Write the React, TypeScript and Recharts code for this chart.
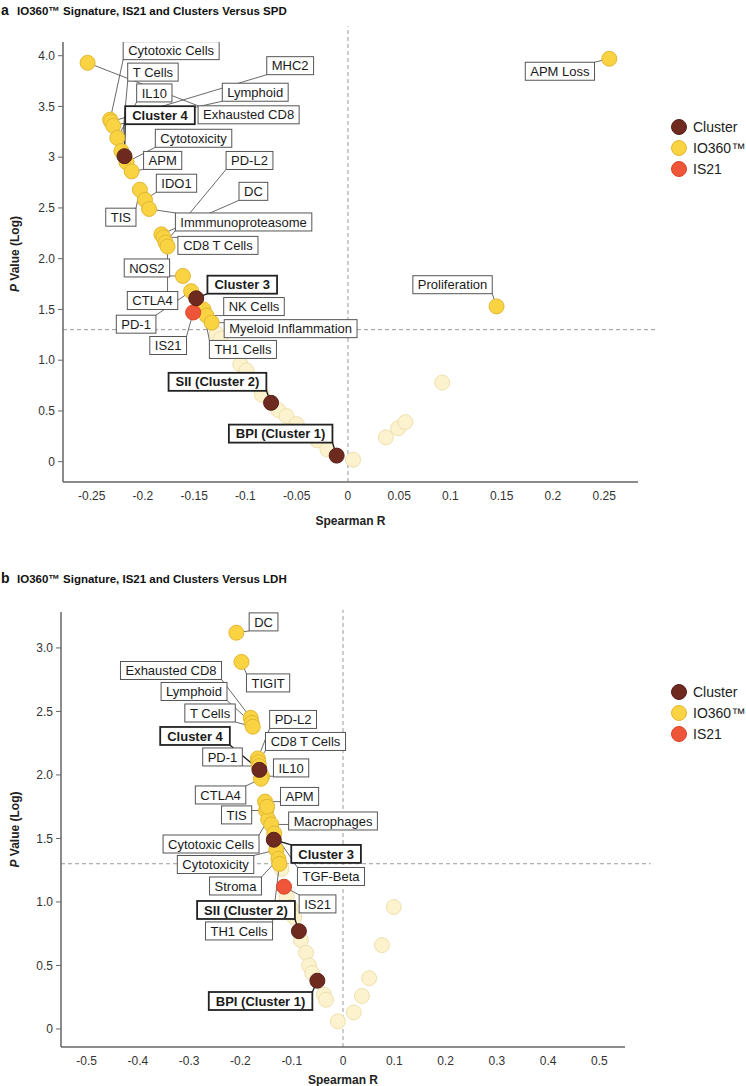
import React from "react";
import { ScatterChart, Scatter, XAxis, YAxis, ReferenceLine } from "recharts";

const FONT = '"Liberation Sans", Arial, Helvetica, sans-serif';

// ---- panel a: signatures vs SPD ----
const spdNames = [
  "Exhausted CD8", "Cytotoxic Cells", "MHC2", "Lymphoid", "IL10", "T Cells", "Cluster 4",
  "Cytotoxicity", "APM", "TIS", "IDO1", "Immmunoproteasome", "DC", "CD8 T Cells", "PD-L2",
  "CTLA4", "NOS2", "PD-1", "Cluster 3", "IS21", "TH1 Cells", "NK Cells", "Myeloid Inflammation",
  "SII (Cluster 2)", "BPI (Cluster 1)", "Proliferation", "APM Loss",
  "", "", "", "", "", "", "", "", "", "", "", "", "", "", "", "", "",
];
const spdR = [
  -0.254, -0.232, -0.231, -0.229, -0.225, -0.221, -0.218,
  -0.216, -0.211, -0.203, -0.198, -0.194, -0.182, -0.18, -0.178,
  -0.176, -0.161, -0.153, -0.148, -0.151, -0.141, -0.138, -0.133,
  -0.075, -0.011, 0.145, 0.255,
  -0.128, -0.124, -0.105, -0.099, -0.09, -0.084, -0.068, -0.06, -0.05, -0.04, -0.03, -0.02,
  0.005, 0.037, 0.049, 0.056, 0.092,
];
const spdLogP = [
  3.93, 3.37, 3.35, 3.31, 3.19, 3.06, 3.01,
  2.95, 2.86, 2.68, 2.58, 2.49, 2.24, 2.21, 2.16,
  2.12, 1.83, 1.68, 1.61, 1.47, 1.5, 1.44, 1.37,
  0.58, 0.06, 1.53, 3.97,
  1.26, 1.21, 0.96, 0.9, 0.76, 0.66, 0.51, 0.45, 0.37, 0.29, 0.21, 0.12,
  0.02, 0.24, 0.33, 0.39, 0.78,
];
const spdGroup = [
  "io360", "io360", "io360", "io360", "io360", "io360", "cluster",
  "io360", "io360", "io360", "io360", "io360", "io360", "io360", "io360",
  "io360", "io360", "io360", "cluster", "is21", "io360", "io360", "io360",
  "cluster", "cluster", "io360", "io360",
  "ns", "ns", "ns", "ns", "ns", "ns", "ns", "ns", "ns", "ns", "ns", "ns",
  "ns", "ns", "ns", "ns", "ns",
];
const spdXTicks = [-0.25, -0.2, -0.15, -0.1, -0.05, 0, 0.05, 0.1, 0.15, 0.2, 0.25];
const spdXTickLabels = ["-0.25", "-0.2", "-0.15", "-0.1", "-0.05", "0", "0.05", "0.1", "0.15", "0.2", "0.25"];
const spdYTicks = [0, 0.5, 1, 1.5, 2, 2.5, 3, 3.5, 4];
const spdYTickLabels = ["0", "0.5", "1.0", "1.5", "2.0", "2.5", "3", "3.5", "4.0"];

// where each label box sits, as a pixel offset of the box centre from its dot
const spdBoxes: Record<string, [number, number]> = {
  "Exhausted CD8": [161, 52],
  "Cytotoxic Cells": [61, -69],
  MHC2: [179, -56],
  Lymphoid: [142, -33.5],
  IL10: [37, -45],
  "T Cells": [31.5, -79],
  "Cluster 4": [35.5, -41],
  Cytotoxicity: [67, -24],
  APM: [31, -11],
  TIS: [-19, 27.5],
  IDO1: [31.5, -16.6],
  Immmunoproteasome: [94.5, 13],
  DC: [92, -43],
  "CD8 T Cells": [54.5, 8],
  "PD-L2": [84, -82],
  CTLA4: [-15, 54],
  NOS2: [-36, -8],
  "PD-1": [-55, 33],
  "Cluster 3": [46, -13.6],
  IS21: [-25, 33],
  "TH1 Cells": [39.5, 40],
  "NK Cells": [47.5, -9],
  "Myeloid Inflammation": [79, 6],
  "SII (Cluster 2)": [-53.6, -21],
  "BPI (Cluster 1)": [-56, -22],
  Proliferation: [-44, -21.7],
  "APM Loss": [-49.4, 12.5],
};

// ---- panel b: signatures vs LDH ----
const ldhNames = [
  "DC", "TIGIT", "Exhausted CD8", "Lymphoid", "T Cells", "PD-L2", "CD8 T Cells", "PD-1",
  "Cluster 4", "IL10", "CTLA4", "APM", "TIS", "Cytotoxic Cells", "Macrophages", "TGF-Beta",
  "Cluster 3", "Cytotoxicity", "Stroma", "TH1 Cells", "IS21", "SII (Cluster 2)", "BPI (Cluster 1)",
  "",
  "", "", "", "", "", "", "", "", "", "", "", "", "", "", "", "",
];
const ldhR = [
  -0.208, -0.198, -0.18, -0.178, -0.176, -0.166, -0.165, -0.164,
  -0.163, -0.158, -0.16, -0.152, -0.15, -0.146, -0.14, -0.134,
  -0.135, -0.13, -0.126, -0.124, -0.115, -0.086, -0.05,
  -0.148,
  -0.12, -0.11, -0.103, -0.095, -0.082, -0.072, -0.066, -0.06, -0.037, -0.033, -0.01,
  0.021, 0.037, 0.051, 0.076, 0.099,
];
const ldhLogP = [
  3.12, 2.89, 2.45, 2.41, 2.38, 2.13, 2.1, 2.07,
  2.04, 1.99, 1.97, 1.79, 1.72, 1.65, 1.61, 1.54,
  1.49, 1.41, 1.34, 1.3, 1.12, 0.77, 0.38,
  1.75,
  1.26, 1.04, 0.96, 0.88, 0.7, 0.6, 0.5, 0.44, 0.27, 0.23, 0.06,
  0.13, 0.26, 0.4, 0.66, 0.96,
];
const ldhGroup = [
  "io360", "io360", "io360", "io360", "io360", "io360", "io360", "io360",
  "cluster", "io360", "io360", "io360", "io360", "io360", "io360", "io360",
  "cluster", "io360", "io360", "io360", "is21", "cluster", "cluster",
  "io360",
  "ns", "ns", "ns", "ns", "ns", "ns", "ns", "ns", "ns", "ns", "ns",
  "ns", "ns", "ns", "ns", "ns",
];
const ldhXTicks = [-0.5, -0.4, -0.3, -0.2, -0.1, 0, 0.1, 0.2, 0.3, 0.4, 0.5];
const ldhXTickLabels = ["-0.5", "-0.4", "-0.3", "-0.2", "-0.1", "0", "0.1", "0.2", "0.3", "0.4", "0.5"];
const ldhYTicks = [0, 0.5, 1, 1.5, 2, 2.5, 3];
const ldhYTickLabels = ["0", "0.5", "1.0", "1.5", "2.0", "2.5", "3.0"];

const ldhBoxes: Record<string, [number, number]> = {
  DC: [27.2, -10.8],
  TIGIT: [26.6, 21],
  "Exhausted CD8": [-79.7, -47.3],
  Lymphoid: [-57.7, -31.4],
  "T Cells": [-42.7, -13.7],
  "PD-L2": [35.2, -39],
  "CD8 T Cells": [47.1, -20.8],
  "PD-1": [-36.4, -9.1],
  "Cluster 4": [-64.4, -33.9],
  IL10: [29.1, -8.3],
  CTLA4: [-40.4, 16.2],
  APM: [34.5, -5.2],
  TIS: [-29.5, 4.4],
  "Cytotoxic Cells": [-57.1, 24.6],
  Macrophages: [61.8, -3.5],
  "TGF-Beta": [56.7, 43.1],
  "Cluster 3": [52.3, 14.2],
  Cytotoxicity: [-60.8, 14.6],
  Stroma: [-42.9, 27.2],
  "TH1 Cells": [-40.4, 67.1],
  IS21: [33.5, 17.2],
  "SII (Cluster 2)": [-52.9, -21.2],
  "BPI (Cluster 1)": [-56.8, 20.3],
};

const legendItems = ["Cluster", "IO360™", "IS21"];
const legendGroups = ["cluster", "io360", "is21"];

const COLORS: Record<string, { fill: string; stroke: string }> = {
  cluster: { fill: "#6E2A1F", stroke: "#58201A" },
  io360: { fill: "#F9D342", stroke: "#E2B732" },
  is21: { fill: "#EF5538", stroke: "#DA4429" },
  ns: { fill: "#FCF2CE", stroke: "#EEE0AE" },
};
const DOT_R = 7.5;

let measureCtx: CanvasRenderingContext2D | null = null;
function textWidth(s: string, bold: boolean) {
  if (!measureCtx) measureCtx = document.createElement("canvas").getContext("2d");
  if (!measureCtx) return s.length * 7;
  measureCtx.font = `${bold ? "bold " : ""}13px "Liberation Sans"`;
  return measureCtx.measureText(s).width;
}

function boxFor(cx: number, cy: number, name: string, bold: boolean, off: [number, number]) {
  const w = textWidth(name, bold) + (bold ? 14 : 10);
  const h = 18;
  return { x: cx + off[0] - w / 2, y: cy + off[1] - h / 2, w, h };
}

const clamp = (v: number, lo: number, hi: number) => Math.max(lo, Math.min(hi, v));

function dotShape(group: string) {
  return (p: any) => (
    <circle cx={p.cx} cy={p.cy} r={DOT_R} fill={COLORS[group].fill} stroke={COLORS[group].stroke} strokeWidth={1} />
  );
}

function XTitle({ viewBox, dy }: any) {
  if (!viewBox) return null;
  return (
    <text x={viewBox.x + viewBox.width / 2} y={viewBox.y + dy} textAnchor="middle" fontSize={12} fontWeight="bold" fill="#222" fontFamily={FONT}>
      Spearman R
    </text>
  );
}

function YTitle({ viewBox, shift }: any) {
  if (!viewBox) return null;
  const cy = viewBox.y + viewBox.height / 2 + (shift || 0);
  return (
    <text transform={`translate(19,${cy}) rotate(-90)`} textAnchor="middle" fontSize={12} fontWeight="bold" fill="#222" fontFamily={FONT}>
      <tspan fontStyle="italic">P</tspan> Value (Log)
    </text>
  );
}

function pickLabel(ticks: number[], labels: string[]) {
  return (v: number) => {
    const i = ticks.findIndex((t) => Math.abs(t - v) < 1e-9);
    return i >= 0 ? labels[i] : String(v);
  };
}

interface PanelProps {
  names: string[];
  r: number[];
  logP: number[];
  group: string[];
  boxes: Record<string, [number, number]>;
  height: number;
  margin: { top: number; right: number; bottom: number; left: number };
  yAxisWidth: number;
  xAxisHeight: number;
  xDomain: [number, number];
  yDomain: [number, number];
  xTicks: number[];
  xTickLabels: string[];
  yTicks: number[];
  yTickLabels: string[];
  titleDy: number;
  yTitleShift: number;
  vTop: number;
  hRight: number;
}

function Panel(props: PanelProps) {
  const rows = props.names.map((name, i) => ({ name, r: props.r[i], p: props.logP[i], group: props.group[i] }));
  const labelled = rows.filter((d) => d.name && props.boxes[d.name]);
  const of = (g: string) => rows.filter((d) => d.group === g);

  const leaderShape = (s: any) => {
    const d = s.payload;
    const off = props.boxes[d.name];
    if (!off) return <g />;
    const b = boxFor(s.cx, s.cy, d.name, d.group === "cluster", off);
    const qx = clamp(s.cx, b.x, b.x + b.w);
    const qy = clamp(s.cy, b.y, b.y + b.h);
    const bold = d.group === "cluster";
    return <line x1={s.cx} y1={s.cy} x2={qx} y2={qy} stroke={bold ? "#222" : "#444"} strokeWidth={bold ? 1.4 : 0.8} />;
  };

  const boxShape = (s: any) => {
    const d = s.payload;
    const off = props.boxes[d.name];
    if (!off) return <g />;
    const bold = d.group === "cluster";
    const b = boxFor(s.cx, s.cy, d.name, bold, off);
    return (
      <g>
        <rect x={b.x} y={b.y} width={b.w} height={b.h} fill="#fff" stroke={bold ? "#222" : "#555"} strokeWidth={bold ? 1.8 : 1} />
        <text x={b.x + b.w / 2} y={b.y + b.h / 2 + 4.6} textAnchor="middle" fontSize={13} fontWeight={bold ? "bold" : "normal"} fill="#1a1a1a" fontFamily={FONT}>
          {d.name}
        </text>
      </g>
    );
  };

  const tickStyle = { fontSize: 12, fill: "#333", fontFamily: FONT };

  return (
    <ScatterChart width={746} height={props.height} margin={props.margin}>
      <XAxis
        type="number"
        dataKey="r"
        domain={props.xDomain}
        ticks={props.xTicks}
        interval={0}
        allowDataOverflow
        tickFormatter={pickLabel(props.xTicks, props.xTickLabels)}
        tick={tickStyle}
        tickLine={false}
        tickSize={6}
        tickMargin={3}
        axisLine={{ stroke: "#666", strokeWidth: 1.5 }}
        height={props.xAxisHeight}
        label={<XTitle dy={props.titleDy} />}
      />
      <YAxis
        type="number"
        dataKey="p"
        domain={props.yDomain}
        ticks={props.yTicks}
        interval={0}
        allowDataOverflow
        tickFormatter={pickLabel(props.yTicks, props.yTickLabels)}
        tick={tickStyle}
        tickSize={5}
        tickMargin={3}
        tickLine={{ stroke: "#666" }}
        axisLine={{ stroke: "#666", strokeWidth: 1.5 }}
        width={props.yAxisWidth}
        label={<YTitle shift={props.yTitleShift} />}
      />
      <ReferenceLine
        segment={[{ x: 0, y: props.yDomain[0] }, { x: 0, y: props.vTop }]}
        ifOverflow="visible"
        stroke="#9a9a9a"
        strokeDasharray="4 3"
      />
      <ReferenceLine
        segment={[{ x: props.xDomain[0], y: 1.301 }, { x: props.hRight, y: 1.301 }]}
        ifOverflow="visible"
        stroke="#9a9a9a"
        strokeDasharray="4 3"
      />
      <Scatter data={of("ns")} shape={dotShape("ns")} isAnimationActive={false} />
      <Scatter data={labelled} shape={leaderShape} isAnimationActive={false} />
      <Scatter data={of("io360")} shape={dotShape("io360")} isAnimationActive={false} />
      <Scatter data={of("is21")} shape={dotShape("is21")} isAnimationActive={false} />
      <Scatter data={of("cluster")} shape={dotShape("cluster")} isAnimationActive={false} />
      <Scatter data={labelled} shape={boxShape} isAnimationActive={false} />
    </ScatterChart>
  );
}

function Legendish({ top }: { top: number }) {
  return (
    <g>
      {legendItems.map((label, i) => {
        const c = COLORS[legendGroups[i]];
        const cy = top + i * 21;
        return (
          <g key={label}>
            <circle cx={679} cy={cy} r={7.5} fill={c.fill} stroke={c.stroke} />
            <text x={693} y={cy + 5} fontSize={14} fill="#222" fontFamily={FONT}>
              {label}
            </text>
          </g>
        );
      })}
    </g>
  );
}

export default function App() {
  return (
    <div style={{ position: "absolute", left: 0, top: 0, width: 746, height: 1086, background: "#fff", fontFamily: FONT }}>
      <div style={{ position: "absolute", left: 0, top: 0 }}>
        <Panel
          names={spdNames}
          r={spdR}
          logP={spdLogP}
          group={spdGroup}
          boxes={spdBoxes}
          height={540}
          margin={{ top: 42, right: 108, bottom: 10, left: 0 }}
          yAxisWidth={63}
          xAxisHeight={48}
          xDomain={[-0.278, 0.283]}
          yDomain={[-0.2, 4.135]}
          xTicks={spdXTicks}
          xTickLabels={spdXTickLabels}
          yTicks={spdYTicks}
          yTickLabels={spdYTickLabels}
          titleDy={42.5}
          yTitleShift={-8}
          vTop={4.29}
          hRight={0.3}
        />
      </div>
      <div style={{ position: "absolute", left: 0, top: 540 }}>
        <Panel
          names={ldhNames}
          r={ldhR}
          logP={ldhLogP}
          group={ldhGroup}
          boxes={ldhBoxes}
          height={546}
          margin={{ top: 72, right: 121, bottom: 2, left: 0 }}
          yAxisWidth={61}
          xAxisHeight={37}
          xDomain={[-0.55, 0.55]}
          yDomain={[-0.142, 3.283]}
          xTicks={ldhXTicks}
          xTickLabels={ldhXTickLabels}
          yTicks={ldhYTicks}
          yTickLabels={ldhYTickLabels}
          titleDy={36.5}
          yTitleShift={0}
          vTop={3.3}
          hRight={0.6}
        />
      </div>
      <svg width={746} height={1086} style={{ position: "absolute", left: 0, top: 0, pointerEvents: "none" }}>
        <text x={1} y={15} fontSize={14} fontWeight="bold" fill="#111" fontFamily={FONT}>a</text>
        <text x={17} y={15} fontSize={11.5} fontWeight="bold" fill="#111" fontFamily={FONT}>
          IO360™ Signature, IS21 and Clusters Versus SPD
        </text>
        <text x={1} y={583} fontSize={14} fontWeight="bold" fill="#111" fontFamily={FONT}>b</text>
        <text x={17} y={583} fontSize={11.5} fontWeight="bold" fill="#111" fontFamily={FONT}>
          IO360™ Signature, IS21 and Clusters Versus LDH
        </text>
        <Legendish top={127} />
        <Legendish top={692} />
      </svg>
    </div>
  );
}
